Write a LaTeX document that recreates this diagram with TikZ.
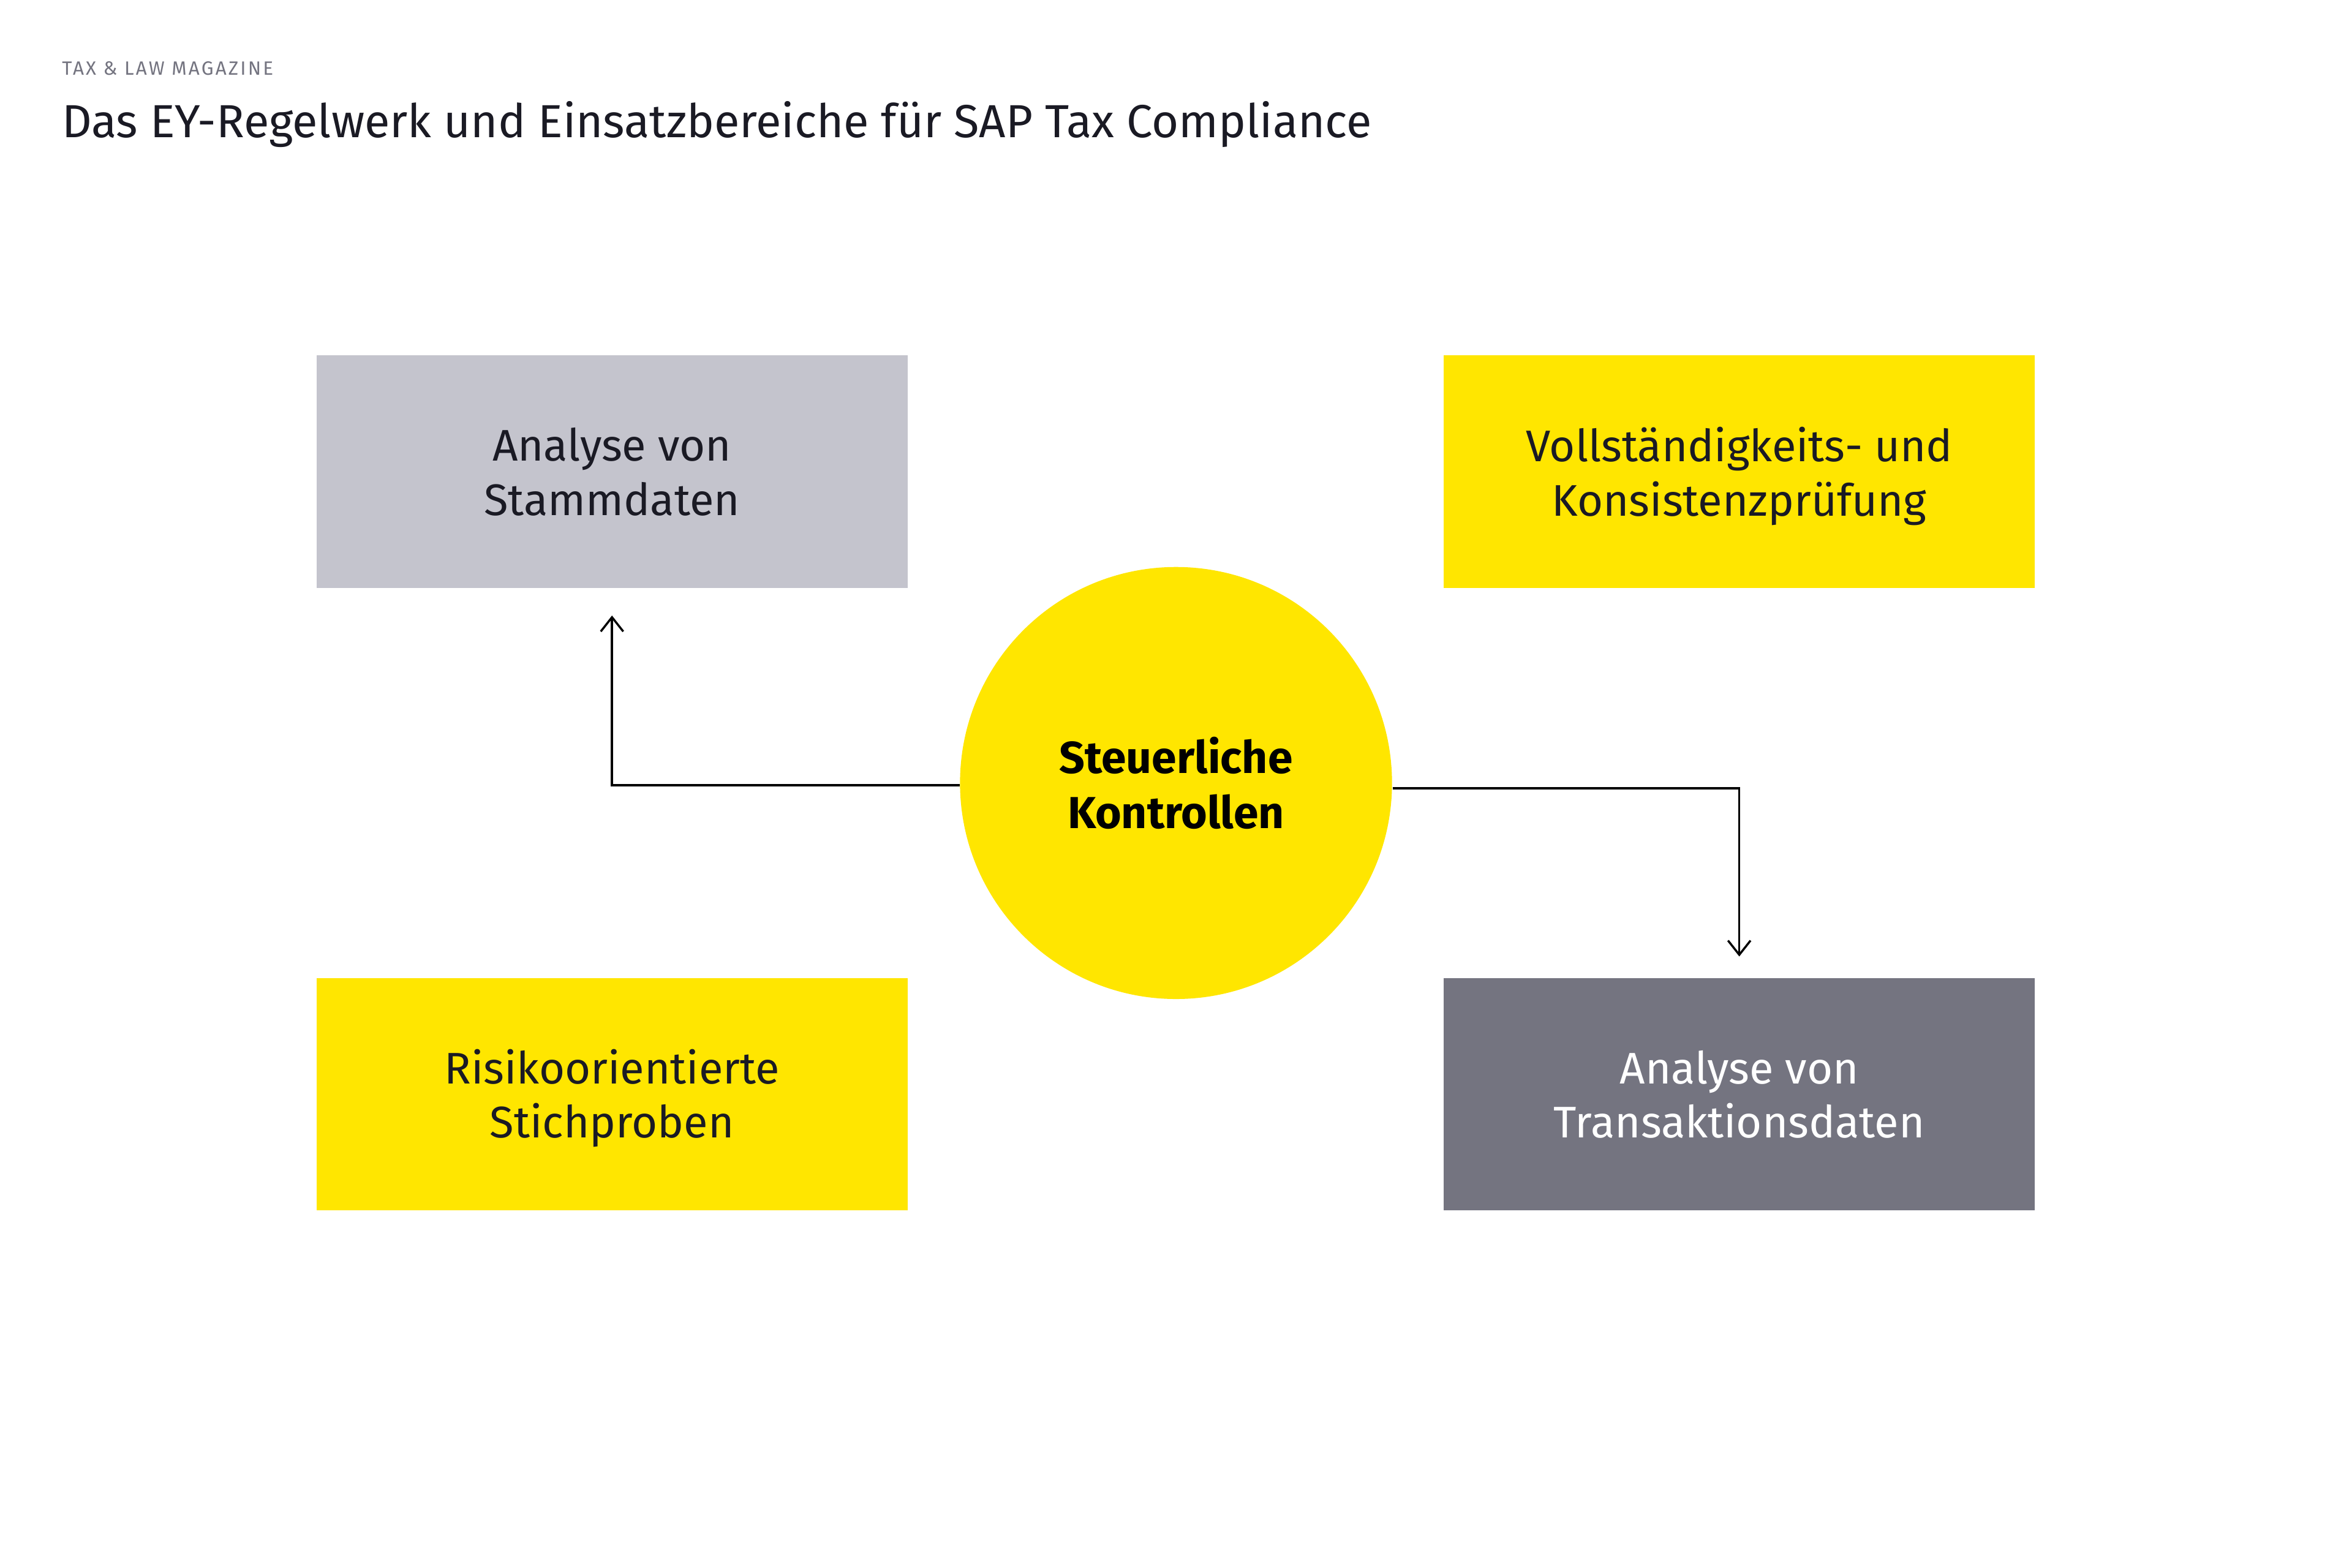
\documentclass[tikz,border=0pt]{standalone}
\usepackage{fontspec}
\setmainfont{Fira Sans}
\usetikzlibrary{arrows.meta,positioning}
\definecolor{eyyellow}{HTML}{FFE600}
\definecolor{eylight}{HTML}{C4C4CD}
\definecolor{eydark}{HTML}{747480}
\definecolor{eyink}{HTML}{1A1A24}
\newcommand{\lowerline}[2]{\raisebox{-#1}[\height][\depth]{#2}}
\tikzset{
  area/.style={
    minimum width=7.88cm,
    minimum height=3.1cm,
    inner sep=0pt,
    align=center,
    text=eyink,
    font=\fontsize{16.8}{20.5}\selectfont
  },
  lightarea/.style={area, fill=eylight},
  yellowarea/.style={area, fill=eyyellow},
  darkarea/.style={area, fill=eydark, text=white},
  hub/.style={
    circle,
    fill=eyyellow,
    minimum size=5.76cm,
    inner sep=0pt,
    align=center,
    font=\fontsize{17}{21}\selectfont\bfseries
  },
  link/.style={-{Straight Barb[length=0.19cm, width=0.3cm]}, line width=0.8pt, black}
}
\begin{document}
\begin{tikzpicture}
  \fill[white] (0,0) rectangle (31.36,-20.9);
  \useasboundingbox (0,0) rectangle (31.36,-20.9);

  \node[anchor=base west, inner sep=0pt, text=eydark, font=\fontsize{7.3}{9}\selectfont\addfontfeatures{LetterSpace=10}] (kicker) at (0.82,-1.0) {TAX \& LAW MAGAZINE};
  \node[anchor=base west, inner sep=0pt, text=eyink, font=\fontsize{17.6}{21}\selectfont] (title) at (0.82,-1.83) {Das EY-Regelwerk und Einsatzbereiche für SAP Tax Compliance};

  \node[hub] (ctrl) at (15.68,-10.44) {Steuerliche\\Kontrollen};

  \node[lightarea] (stamm) at (8.16,-6.29) {Analyse von\\Stammdaten};
  \node[yellowarea] (voll) at (23.19,-6.29) {\lowerline{0.06cm}{Vollständigkeits- und}\\\lowerline{0.06cm}{Konsistenzprüfung}};
  \node[yellowarea] (risk) at (8.16,-14.59) {\lowerline{0.05cm}{Risikoorientierte}\\\lowerline{0.05cm}{Stichproben}};
  \node[darkarea] (trans) at (23.19,-14.59) {Analyse von\\Transaktionsdaten};

  \draw[link] ([yshift=-0.03cm]ctrl.west) -| ([yshift=-0.36cm]stamm.south);
  \draw[link] ([yshift=-0.07cm]ctrl.east) -| ([yshift=0.28cm]trans.north);
\end{tikzpicture}
\end{document}
